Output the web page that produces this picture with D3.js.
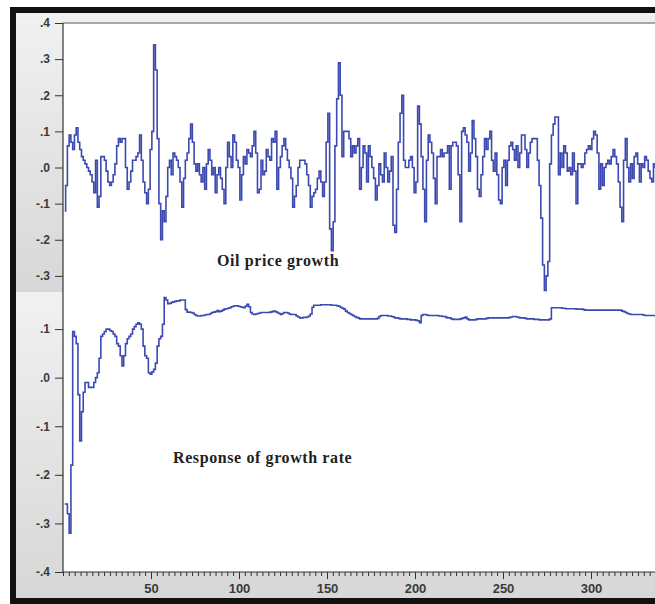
<!DOCTYPE html>
<html>
<head>
<meta charset="utf-8">
<script src="https://cdn.jsdelivr.net/npm/d3@7"></script>
<style>
  body { margin: 0; background: #fff; }
  svg { display: block; }
</style>
</head>
<body>
<div id="my_dataviz"></div>
<script>
// oil price growth, obs 1..337
var oilGrowth = [
  -0.12,-0.05,0.06,0.09,0.07,0.05,0.09,0.11,0.07,0.05,
  0.03,0.02,0.01,0.0,-0.01,-0.02,-0.04,-0.07,0.02,-0.11,
  -0.08,0.03,0.03,0.02,-0.01,-0.04,-0.05,-0.04,-0.02,0.01,
  0.06,0.08,0.07,0.08,0.08,0.0,-0.06,-0.04,-0.01,0.02,
  0.02,0.03,0.04,0.09,0.02,-0.04,-0.07,-0.1,-0.06,0.05,
  0.1,0.34,0.27,0.08,-0.1,-0.2,-0.12,-0.15,-0.08,0.0,
  0.02,-0.02,0.04,0.03,0.02,0.0,-0.04,-0.11,-0.03,0.02,
  0.04,0.08,0.12,0.07,0.01,-0.01,0.01,-0.02,-0.04,0.0,
  -0.06,0.01,0.05,0.02,-0.02,0.0,-0.07,-0.02,0.0,-0.03,
  -0.06,-0.1,0.0,0.07,0.03,0.0,0.09,0.07,0.02,0.0,
  -0.09,-0.02,0.03,0.01,0.05,0.04,0.03,0.06,0.1,0.04,
  -0.07,-0.06,0.02,-0.02,-0.01,0.05,0.03,0.02,0.08,0.07,
  0.1,-0.06,0.0,0.03,0.06,0.08,0.05,0.02,0.0,-0.03,
  -0.11,-0.08,-0.05,0.0,0.02,0.02,0.02,0.01,-0.02,-0.05,
  -0.11,-0.08,-0.07,-0.06,-0.03,-0.01,-0.04,-0.08,-0.04,0.07,
  0.15,-0.17,-0.23,-0.15,0.06,0.19,0.29,0.2,0.03,0.1,
  0.1,0.1,0.08,0.03,0.06,0.04,0.06,0.08,-0.06,0.0,
  0.06,0.04,-0.04,0.06,0.03,0.0,-0.03,-0.09,-0.05,0.01,
  -0.02,-0.04,0.04,0.0,-0.04,-0.01,0.03,-0.16,-0.18,-0.06,
  0.07,0.15,0.2,0.02,0.0,0.0,0.02,0.03,0.0,-0.07,
  -0.04,0.17,0.12,0.03,-0.06,-0.15,0.02,0.09,0.07,0.04,
  -0.03,-0.1,0.03,0.03,0.05,0.03,0.04,0.04,0.06,-0.06,
  0.06,0.07,0.07,0.06,-0.02,-0.15,0.1,0.11,0.09,0.07,
  -0.01,0.04,0.13,0.08,0.03,-0.06,-0.08,-0.02,0.03,0.08,
  0.05,0.08,0.1,0.02,-0.01,0.04,-0.02,-0.09,-0.1,0.0,
  0.02,-0.05,0.02,0.06,0.07,0.05,0.02,0.06,0.0,0.04,
  0.09,0.09,0.05,0.0,0.04,0.07,0.08,0.08,0.08,0.02,
  -0.05,-0.14,-0.27,-0.34,-0.3,-0.26,0.01,0.09,0.12,0.14,
  0.14,-0.02,0.04,0.0,0.06,0.04,-0.01,0.0,-0.02,0.04,
  -0.01,-0.1,0.01,0.01,0.0,0.01,0.04,0.05,0.06,0.05,
  0.08,0.1,0.09,0.04,-0.06,0.01,-0.05,0.0,0.01,0.02,
  0.01,0.03,0.05,0.03,0.01,-0.04,-0.11,-0.15,0.02,0.08,
  0.0,-0.04,0.01,-0.03,0.03,0.04,0.01,-0.04,0.01,0.0,
  0.03,0.02,-0.01,-0.03,-0.04,0.01,0.0
];

// response of growth rate, obs 1..337
var growthResponse = [
  -0.26,-0.26,-0.28,-0.32,-0.18,0.095,0.085,0.07,-0.035,-0.13,
  -0.07,-0.03,-0.01,-0.01,-0.02,-0.02,-0.02,-0.01,0.0,0.01,
  0.04,0.085,0.09,0.095,0.1,0.1,0.097,0.095,0.09,0.085,
  0.07,0.065,0.045,0.024,0.045,0.07,0.08,0.085,0.09,0.1,
  0.105,0.11,0.113,0.11,0.1,0.065,0.045,0.04,0.01,0.007,
  0.012,0.017,0.03,0.065,0.08,0.085,0.11,0.165,0.16,0.152,
  0.153,0.155,0.156,0.157,0.158,0.158,0.16,0.16,0.16,0.14,
  0.135,0.135,0.134,0.133,0.13,0.128,0.127,0.127,0.128,0.128,
  0.129,0.13,0.13,0.132,0.134,0.135,0.136,0.138,
  0.136,0.137,0.139,0.141,0.142,0.143,0.144,0.146,0.147,0.148,
  0.148,0.147,0.146,0.145,0.144,0.147,0.151,0.146,0.134,0.131,
  0.130,0.131,0.132,0.133,0.134,0.134,0.134,0.134,0.134,0.135,
  0.136,0.137,0.136,0.134,0.132,0.130,0.132,0.134,0.134,0.133,
  0.131,0.130,0.130,0.130,0.127,0.125,0.123,0.123,0.124,0.124,
  0.125,0.127,0.131,0.145,0.149,0.149,0.149,0.149,0.150,0.150,
  0.150,0.150,0.150,0.150,0.149,0.149,0.149,0.148,0.147,0.145,
  0.143,0.141,0.137,0.134,0.132,0.130,0.128,0.126,0.124,0.123,
  0.121,0.121,0.121,0.121,0.121,0.121,0.121,0.121,0.121,0.121,
  0.122,0.126,0.128,0.128,0.128,0.128,0.127,0.127,0.126,0.125,
  0.123,0.123,0.122,0.121,0.121,0.121,0.121,0.120,0.120,0.119,
  0.119,0.119,0.118,0.117,0.113,0.128,0.130,0.130,0.129,0.128,
  0.128,0.128,0.128,0.128,0.128,0.127,0.127,0.126,0.126,0.124,
  0.123,0.123,0.121,0.120,0.120,0.120,0.120,0.121,0.122,0.123,
  0.125,0.121,0.119,0.119,0.119,0.119,0.120,0.121,0.121,0.121,
  0.121,0.121,0.122,0.123,0.123,0.123,0.123,0.123,0.123,0.123,
  0.123,0.123,0.123,0.123,0.123,0.124,0.125,0.126,0.126,0.125,
  0.124,0.123,0.123,0.123,0.122,0.121,0.121,0.121,0.121,0.120,
  0.120,0.120,0.119,0.119,0.119,0.119,0.119,0.119,0.121,0.144,
  0.144,0.144,0.144,0.144,0.144,0.143,0.143,0.142,0.142,0.142,
  0.142,0.142,0.142,0.141,0.141,0.141,0.141,0.140,0.139,0.139,
  0.139,0.139,0.139,0.139,0.139,0.139,0.139,0.139,0.139,0.139,
  0.139,0.139,0.139,0.139,0.139,0.139,0.139,0.139,0.139,0.137,
  0.136,0.134,0.132,0.131,0.130,0.130,0.130,0.130,0.130,0.130,
  0.130,0.129,0.128,0.128,0.128,0.128,0.128,0.128,0.128
];

var topTicks = [0.4, 0.3, 0.2, 0.1, 0.0, -0.1, -0.2, -0.3];
var bottomTicks = [0.1, 0.0, -0.1, -0.2, -0.3, -0.4];
var xTicks = [50, 100, 150, 200, 250, 300];
var seriesNames = ["Oil price growth", "Response of growth rate"];

var W = 655, H = 604;
var left = 63, plotTop = 23, split = 292, plotBottom = 572;

var svg = d3.select("#my_dataviz")
  .append("svg")
  .attr("width", W)
  .attr("height", H);

var defs = svg.append("defs");
var grad = defs.append("linearGradient")
  .attr("id", "panelGrad")
  .attr("x1", 0).attr("y1", 0).attr("x2", 0).attr("y2", 1);
grad.append("stop").attr("offset", "0%").attr("stop-color", "#f1f1f1");
grad.append("stop").attr("offset", "100%").attr("stop-color", "#d7d7d7");

defs.append("clipPath").attr("id", "clipTop")
  .append("rect").attr("x", left).attr("y", plotTop)
  .attr("width", W - left).attr("height", split - plotTop);
defs.append("clipPath").attr("id", "clipBottom")
  .append("rect").attr("x", left).attr("y", split)
  .attr("width", W - left).attr("height", plotBottom - split);

// gray panel backgrounds
svg.append("rect").attr("x", 16).attr("y", 13)
  .attr("width", W - 16).attr("height", split - 13)
  .attr("fill", "url(#panelGrad)");
svg.append("rect").attr("x", 16).attr("y", split)
  .attr("width", W - 16).attr("height", 598 - split)
  .attr("fill", "url(#panelGrad)");

// white plot area
svg.append("rect").attr("x", left).attr("y", plotTop)
  .attr("width", W - left).attr("height", plotBottom - plotTop)
  .attr("fill", "#fff");

// black outer frame
svg.append("rect").attr("x", 10).attr("y", 7).attr("width", 6).attr("height", H - 7).attr("fill", "#111");
svg.append("rect").attr("x", 10).attr("y", 7).attr("width", W - 10).attr("height", 6).attr("fill", "#111");
svg.append("rect").attr("x", 10).attr("y", 598).attr("width", W - 10).attr("height", 6).attr("fill", "#111");

var x = d3.scaleLinear().domain([0, 350]).range([left, left + 616]);
var yTop = d3.scaleLinear().domain([-0.4, 0.4]).range([312, plotTop]);
var yBot = d3.scaleLinear().domain([-0.4, 0.2]).range([plotBottom, 280.5]);

// eviews style: ".1", "-.2" with a plain hyphen
var fmt = function(d) {
  var s = d3.format(".1f")(d).replace("\u2212", "-");
  return s.replace("0.", ".");
};

function styleAxis(g) {
  g.select(".domain").remove();
  g.selectAll(".tick line").attr("stroke", "#333");
  g.selectAll(".tick text")
    .attr("fill", "#3a3a3a")
    .style("font-family", "Liberation Sans, Arial, sans-serif")
    .style("font-weight", "bold");
}

svg.append("g")
  .attr("transform", "translate(" + left + ",0)")
  .call(d3.axisLeft(yTop).tickValues(topTicks).tickFormat(fmt).tickSize(8).tickPadding(5))
  .call(styleAxis)
  .selectAll("text").style("font-size", "12px");

svg.append("g")
  .attr("transform", "translate(" + left + ",0)")
  .call(d3.axisLeft(yBot).tickValues(bottomTicks).tickFormat(fmt).tickSize(8).tickPadding(5))
  .call(styleAxis)
  .selectAll("text").style("font-size", "12px");

// minor x ticks
var minor = d3.range(0, 345, 10 / 3);
svg.append("g")
  .attr("transform", "translate(0," + plotBottom + ")")
  .call(d3.axisBottom(x).tickValues(minor).tickSize(4).tickFormat(""))
  .call(styleAxis);

svg.append("g")
  .attr("transform", "translate(0," + plotBottom + ")")
  .call(d3.axisBottom(x).tickValues(xTicks).tickSize(7).tickPadding(5).tickFormat(d3.format("d")))
  .call(styleAxis)
  .selectAll("text").style("font-size", "13px");

// plot frame lines
svg.append("line").attr("x1", left).attr("x2", W).attr("y1", plotTop).attr("y2", plotTop)
  .attr("stroke", "#555").attr("stroke-width", 1);
svg.append("line").attr("x1", left).attr("x2", left).attr("y1", plotTop).attr("y2", plotBottom)
  .attr("stroke", "#333").attr("stroke-width", 1.2);
svg.append("line").attr("x1", left).attr("x2", W).attr("y1", plotBottom).attr("y2", plotBottom)
  .attr("stroke", "#333").attr("stroke-width", 1.2);

var lineTop = d3.line()
  .x(function(d, i) { return x(i + 1); })
  .y(function(d) { return yTop(d); })
  .curve(d3.curveStep);

var lineBot = d3.line()
  .x(function(d, i) { return x(i + 1); })
  .y(function(d) { return yBot(d); })
  .curve(d3.curveStep);

svg.append("path")
  .datum(oilGrowth)
  .attr("clip-path", "url(#clipTop)")
  .attr("fill", "none")
  .attr("stroke", "#3b49b0")
  .attr("stroke-width", 1.6)
  .attr("d", lineTop);

svg.append("path")
  .datum(growthResponse)
  .attr("clip-path", "url(#clipBottom)")
  .attr("fill", "none")
  .attr("stroke", "#3b49b0")
  .attr("stroke-width", 1.6)
  .attr("d", lineBot);

// series captions
svg.append("text")
  .attr("x", 217).attr("y", 266)
  .text(seriesNames[0])
  .style("font-family", "Liberation Serif, Times New Roman, serif")
  .style("font-size", "16px")
  .style("font-weight", "bold")
  .style("letter-spacing", "0.6px")
  .attr("fill", "#222");

svg.append("text")
  .attr("x", 173).attr("y", 463)
  .text(seriesNames[1])
  .style("font-family", "Liberation Serif, Times New Roman, serif")
  .style("font-size", "16px")
  .style("font-weight", "bold")
  .style("letter-spacing", "0.6px")
  .attr("fill", "#222");
</script>
</body>
</html>
